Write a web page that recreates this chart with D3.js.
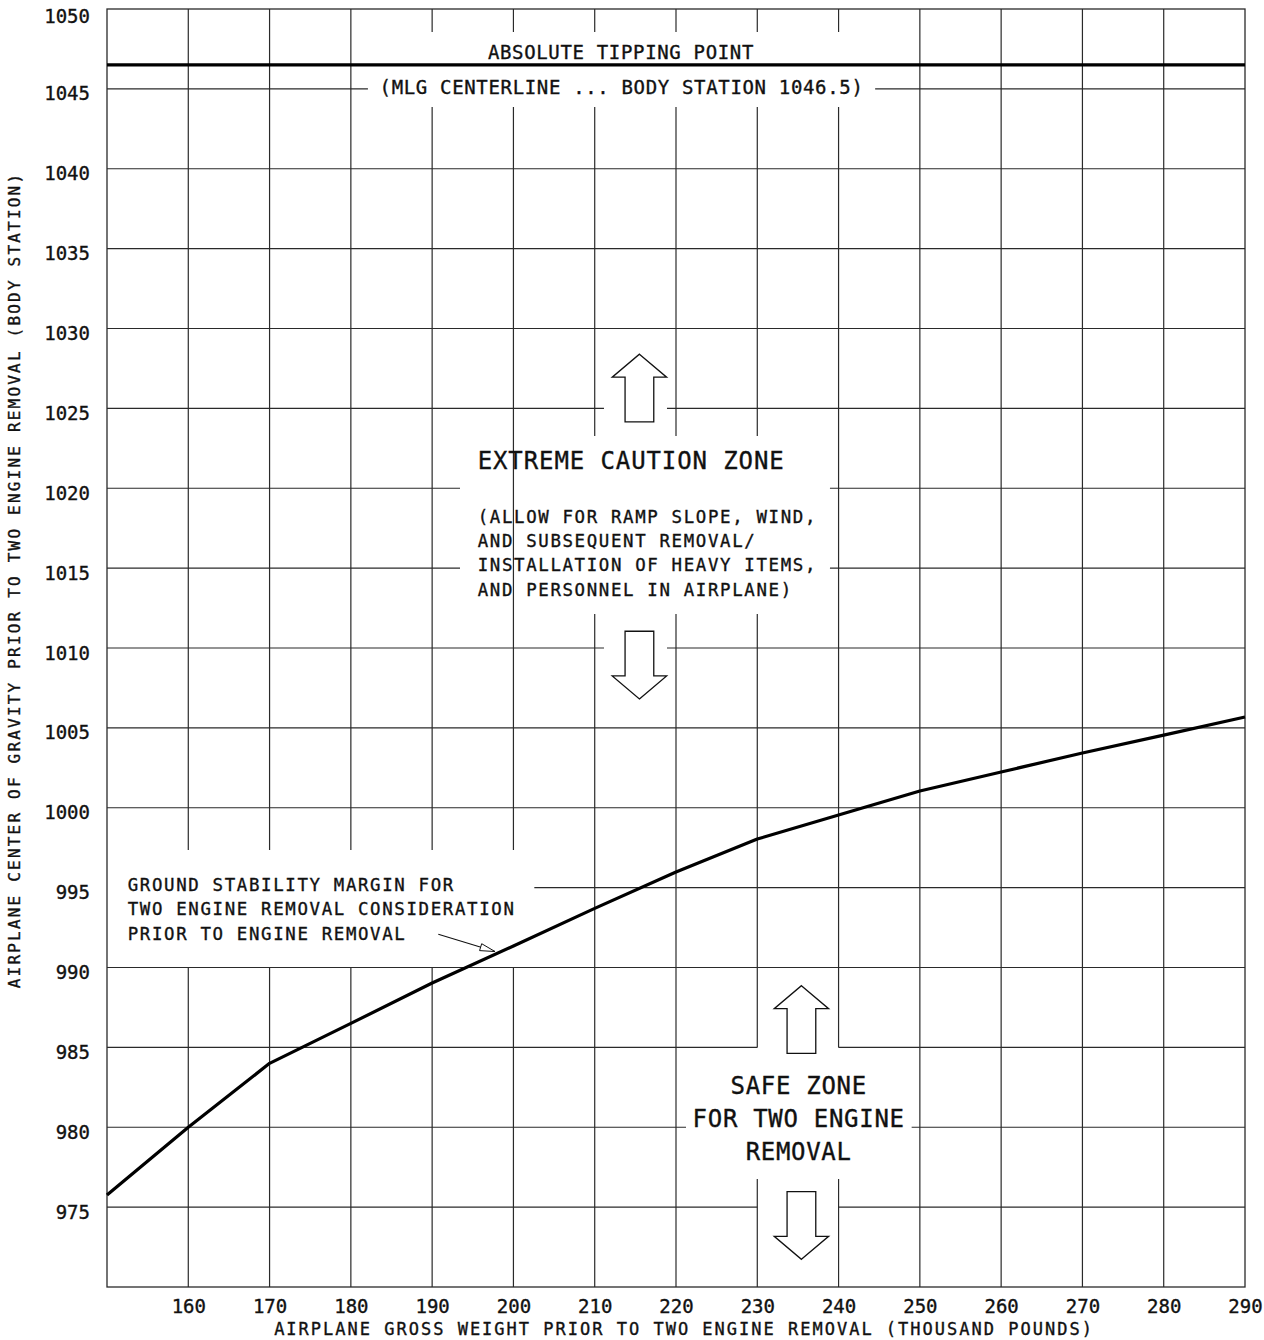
<!DOCTYPE html>
<html>
<head>
<meta charset="utf-8">
<script src="https://cdn.jsdelivr.net/npm/d3@7"></script>
<style>
  body { margin: 0; background: #fff; }
  svg text { font-family: "DejaVu Sans Mono", "Liberation Mono", monospace; fill: #111; stroke: #111; stroke-width: 0.35px; }
</style>
</head>
<body>
<svg id="chart" width="1264" height="1340"></svg>
<script>
// Gross weight (thousand lb) and the CG limit (body station) for two engine removal
const weights    = [150, 160, 170, 180, 190, 200, 210, 220, 230, 240, 250, 260, 270, 280, 290];
const cgStations = [975.76, 980.0, 984.0, 986.5, 989.03, 991.35, 993.7, 995.98, 998.04, 999.55, 1001.05, 1002.24, 1003.43, 1004.55, 1005.68];

// Axis ticks
const xTicks = [160, 170, 180, 190, 200, 210, 220, 230, 240, 250, 260, 270, 280, 290];
const yTicks = [975, 980, 985, 990, 995, 1000, 1005, 1010, 1015, 1020, 1025, 1030, 1035, 1040, 1045, 1050];

// Main landing gear centerline (absolute tipping point)
const tippingStation = 1046.5;

// Text
const xTitle = "AIRPLANE GROSS WEIGHT PRIOR TO TWO ENGINE REMOVAL (THOUSAND POUNDS)";
const yTitle = "AIRPLANE CENTER OF GRAVITY PRIOR TO TWO ENGINE REMOVAL (BODY STATION)";
const tippingLabel = "ABSOLUTE TIPPING POINT";
const tippingNote = "(MLG CENTERLINE ... BODY STATION 1046.5)";
const cautionTitle = "EXTREME CAUTION ZONE";
const cautionNote = ["(ALLOW FOR RAMP SLOPE, WIND,", "AND SUBSEQUENT REMOVAL/", "INSTALLATION OF HEAVY ITEMS,", "AND PERSONNEL IN AIRPLANE)"];
const marginNote = ["GROUND STABILITY MARGIN FOR", "TWO ENGINE REMOVAL CONSIDERATION", "PRIOR TO ENGINE REMOVAL"];
const safeTitle = ["SAFE ZONE", "FOR TWO ENGINE", "REMOVAL"];

// ---- layout ----
const frame = { left: 107, right: 1245, top: 9, bottom: 1287 };
const x = d3.scaleLinear().domain([150, 290]).range([frame.left, frame.right]);
const y = d3.scaleLinear().domain([970, 1050]).range([frame.bottom, frame.top]);

const svg = d3.select("#chart");
const gridColor = "#2a2a2a";

// Grid-line gaps left open around the annotations (data units)
const gridGaps = [
  { dir: "v", x: [185, 245], y: [1043.87, 1048.56] },
  { dir: "h", x: [182.1, 244.5], y: [1044, 1046] },
  { dir: "v", x: [205, 235], y: [1012.13, 1023.27] },
  { dir: "h", x: [193.43, 238.94], y: [1014, 1021] },
  { dir: "h", x: [211.14, 218.89], y: [1009, 1011] },
  { dir: "h", x: [211.14, 218.89], y: [1024, 1026] },
  { dir: "v", x: [155, 205], y: [990, 997.36] },
  { dir: "h", x: [150, 202.57], y: [994, 996] },
  { dir: "v", x: [225, 245], y: [976.76, 985] },
  { dir: "h", x: [230, 240], y: [984, 986] },
  { dir: "h", x: [230, 240], y: [974, 976] },
  { dir: "h", x: [221.23, 248.99], y: [979, 981] }
];

function openSpans(lo, hi, cuts) {
  cuts = cuts.slice().sort((a, b) => a[0] - b[0]);
  const out = [];
  let start = lo;
  cuts.forEach(([a, b]) => {
    if (a > start) out.push([start, Math.min(a, hi)]);
    start = Math.max(start, b);
  });
  if (start < hi) out.push([start, hi]);
  return out;
}

const grid = svg.append("g").attr("stroke", gridColor).attr("stroke-width", 1.2);

xTicks.filter(v => v < 290).forEach(v => {
  const cuts = gridGaps.filter(g => g.dir === "v" && g.x[0] < v && v < g.x[1]).map(g => g.y);
  openSpans(970, 1050, cuts).forEach(([a, b]) => {
    grid.append("line").attr("x1", x(v)).attr("x2", x(v)).attr("y1", y(a)).attr("y2", y(b));
  });
});
yTicks.filter(v => v < 1050).forEach(v => {
  const cuts = gridGaps.filter(g => g.dir === "h" && g.y[0] < v && v < g.y[1]).map(g => g.x);
  openSpans(150, 290, cuts).forEach(([a, b]) => {
    grid.append("line").attr("y1", y(v)).attr("y2", y(v)).attr("x1", x(a)).attr("x2", x(b));
  });
});

// Frame
svg.append("rect")
  .attr("x", frame.left).attr("y", frame.top)
  .attr("width", frame.right - frame.left).attr("height", frame.bottom - frame.top)
  .attr("fill", "none").attr("stroke", gridColor).attr("stroke-width", 1.3);

// Axes (labels only)
const xAxis = d3.axisBottom(x).tickValues(xTicks).tickFormat(d3.format("d")).tickSize(0).tickPadding(0);
const gx = svg.append("g").attr("transform", `translate(0,${frame.bottom})`).call(xAxis);
gx.select(".domain").remove();
gx.selectAll("text").attr("y", 0).attr("dy", "25.7px")
  .style("font-family", "DejaVu Sans Mono").style("font-size", "19px").attr("fill", "#111");

const yAxis = d3.axisLeft(y).tickValues(yTicks).tickFormat(d3.format("d")).tickSize(0).tickPadding(0);
const gy = svg.append("g").attr("transform", `translate(${frame.left},0)`).call(yAxis);
gy.select(".domain").remove();
gy.selectAll("text").attr("x", 90 - frame.left).attr("dy", "11px")
  .style("font-family", "DejaVu Sans Mono").style("font-size", "19px").attr("fill", "#111");
gy.selectAll(".tick").filter(d => d === 1050).select("text").attr("dy", "13.5px");

// Axis titles
svg.append("text")
  .attr("x", 684).attr("y", 1335).attr("text-anchor", "middle")
  .style("font-size", "17px").style("letter-spacing", "2px")
  .text(xTitle);
svg.append("text")
  .attr("transform", "translate(20,580) rotate(-90)").attr("text-anchor", "middle")
  .style("font-size", "16px").style("letter-spacing", "2.2px")
  .text(yTitle);

// Absolute tipping point line
svg.append("line")
  .attr("x1", x(150)).attr("x2", x(290)).attr("y1", y(tippingStation)).attr("y2", y(tippingStation))
  .attr("stroke", "#000").attr("stroke-width", 3.4);

svg.append("text")
  .attr("x", x(213.23)).attr("y", y(1046.85)).attr("text-anchor", "middle")
  .style("font-size", "19px").style("letter-spacing", "0.66px")
  .text(tippingLabel);
svg.append("text")
  .attr("x", x(213.3)).attr("y", y(1044.68)).attr("text-anchor", "middle")
  .style("font-size", "19px").style("letter-spacing", "0.66px")
  .text(tippingNote);

// CG limit curve
const line = d3.line().x((d, i) => x(weights[i])).y(d => y(d));
svg.append("path")
  .datum(cgStations)
  .attr("d", line)
  .attr("fill", "none").attr("stroke", "#000").attr("stroke-width", 3.2)
  .attr("stroke-linejoin", "round");

// Block arrows (tip at data anchor, pointing up or down)
function blockArrow(cx, tipY, dir) {
  const headHalf = 27.2, headLen = 23, shaftHalf = 14.35, total = 67.7;
  const X = x(cx), T = y(tipY), s = dir === "up" ? 1 : -1;
  const pts = [
    [X, T],
    [X + headHalf, T + s * headLen],
    [X + shaftHalf, T + s * headLen],
    [X + shaftHalf, T + s * total],
    [X - shaftHalf, T + s * total],
    [X - shaftHalf, T + s * headLen],
    [X - headHalf, T + s * headLen]
  ];
  svg.append("polygon")
    .attr("points", pts.map(p => p.join(",")).join(" "))
    .attr("fill", "#fff").attr("stroke", "#111").attr("stroke-width", 1.3);
}
blockArrow(215.5, 1028.39, "up");
blockArrow(215.5, 1006.81, "down");
blockArrow(235.43, 988.86, "up");
blockArrow(235.43, 971.73, "down");

// Extreme caution zone text
svg.append("text")
  .attr("x", x(195.6)).attr("y", y(1021.2))
  .style("font-size", "24px").style("letter-spacing", "0.9px")
  .text(cautionTitle);
const cautionBase = y(1017.84);
cautionNote.forEach((t, i) => {
  svg.append("text")
    .attr("x", x(195.6)).attr("y", cautionBase + i * 24.35)
    .style("font-size", "17.4px").style("letter-spacing", "1.65px")
    .text(t);
});

// Ground stability margin note with leader
const marginBase = y(994.79);
marginNote.forEach((t, i) => {
  svg.append("text")
    .attr("x", x(152.55)).attr("y", marginBase + i * 24.5)
    .style("font-size", "17.4px").style("letter-spacing", "1.65px")
    .text(t);
});
const lx1 = x(190.76), ly1 = y(992.08), lx2 = x(197.73), ly2 = y(991.0);
svg.append("line").attr("x1", lx1).attr("y1", ly1).attr("x2", lx2).attr("y2", ly2)
  .attr("stroke", "#111").attr("stroke-width", 1.1);
{
  const ang = Math.atan2(ly2 - ly1, lx2 - lx1), L = 15, W = 3.6;
  const bx = lx2 - L * Math.cos(ang), by = ly2 - L * Math.sin(ang);
  const px = -Math.sin(ang) * W, py = Math.cos(ang) * W;
  svg.append("polygon")
    .attr("points", `${lx2},${ly2} ${bx + px},${by + py} ${bx - px},${by - py}`)
    .attr("fill", "#fff").attr("stroke", "#111").attr("stroke-width", 1);
}

// Safe zone text
const safeBase = y(982.06);
safeTitle.forEach((t, i) => {
  svg.append("text")
    .attr("x", x(235.09)).attr("y", safeBase + i * 33).attr("text-anchor", "middle")
    .style("font-size", "24px").style("letter-spacing", "0.7px")
    .text(t);
});
</script>
</body>
</html>
